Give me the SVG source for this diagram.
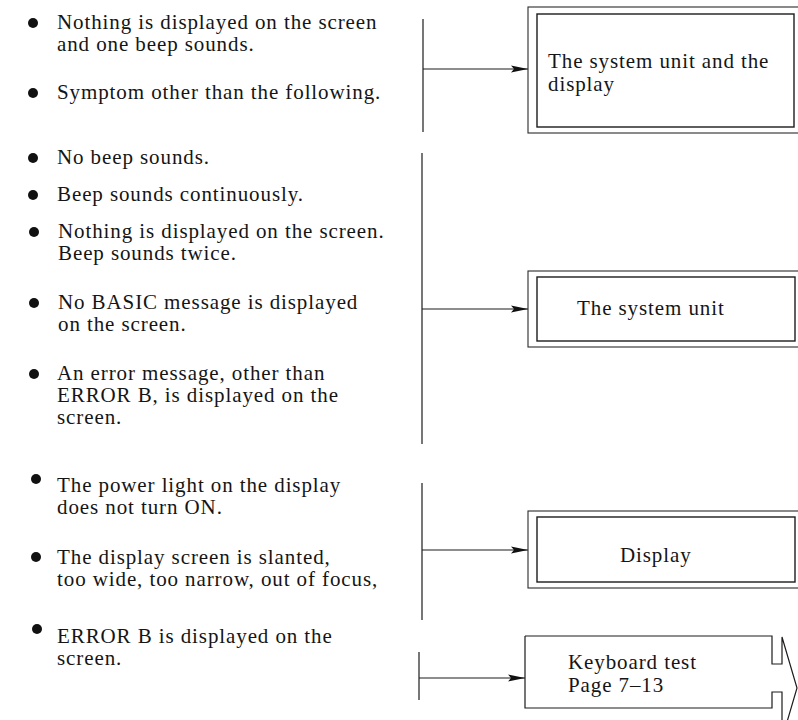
<svg xmlns="http://www.w3.org/2000/svg" width="798" height="720" viewBox="0 0 798 720">
<style>
  text { font-family: "Liberation Serif", "Times New Roman", serif; font-size: 21px; letter-spacing: 0.9px; fill: #151515; }
  .ln { stroke: #1c1c1c; stroke-width: 1.2; fill: none; }
  .outer { stroke: #2a2a2a; stroke-width: 1.1; fill: none; }
  .inner { stroke: #1c1c1c; stroke-width: 1.4; fill: none; }
  .bul { fill: #111; }
</style>
<defs>
  <marker id="ah" markerUnits="userSpaceOnUse" markerWidth="18" markerHeight="10" refX="17" refY="5" orient="auto">
    <path d="M0,1.6 L17,5 L0,8.4 L3,5 Z" fill="#111"/>
  </marker>
</defs>
<rect width="798" height="720" fill="#ffffff"/>

<g id="symptoms">
  <g id="s1">
    <circle class="bul" cx="33" cy="23" r="5"/>
    <text x="57" y="29">Nothing is displayed on the screen</text>
    <text x="57" y="51">and one beep sounds.</text>
  </g>
  <g id="s2">
    <circle class="bul" cx="33" cy="93" r="5"/>
    <text x="57" y="99">Symptom other than the following.</text>
  </g>
  <g id="s3">
    <circle class="bul" cx="33" cy="158" r="5"/>
    <text x="57" y="164">No beep sounds.</text>
  </g>
  <g id="s4">
    <circle class="bul" cx="33" cy="195" r="5"/>
    <text x="57" y="201">Beep sounds continuously.</text>
  </g>
  <g id="s5">
    <circle class="bul" cx="34" cy="232" r="5"/>
    <text x="58" y="238">Nothing is displayed on the screen.</text>
    <text x="58" y="260">Beep sounds twice.</text>
  </g>
  <g id="s6">
    <circle class="bul" cx="34" cy="303" r="5"/>
    <text x="58" y="309">No BASIC message is displayed</text>
    <text x="58" y="331">on the screen.</text>
  </g>
  <g id="s7">
    <circle class="bul" cx="34" cy="374" r="5"/>
    <text x="57" y="380">An error message, other than</text>
    <text x="57" y="402">ERROR B, is displayed on the</text>
    <text x="57" y="424">screen.</text>
  </g>
  <g id="s8">
    <circle class="bul" cx="36" cy="479" r="5"/>
    <text x="57" y="492">The power light on the display</text>
    <text x="57" y="514">does not turn ON.</text>
  </g>
  <g id="s9">
    <circle class="bul" cx="36" cy="557" r="5"/>
    <text x="57" y="564">The display screen is slanted,</text>
    <text x="57" y="586">too wide, too narrow, out of focus,</text>
  </g>
  <g id="s10">
    <circle class="bul" cx="37" cy="629" r="5"/>
    <text x="57" y="643">ERROR B is displayed on the</text>
    <text x="57" y="665">screen.</text>
  </g>
</g>

<g id="connectors">
  <line class="ln" x1="423" y1="19" x2="423" y2="132"/>
  <line class="ln" x1="423" y1="69" x2="528" y2="69" marker-end="url(#ah)"/>
  <line class="ln" x1="422" y1="153" x2="422" y2="444"/>
  <line class="ln" x1="422" y1="309" x2="528" y2="309" marker-end="url(#ah)"/>
  <line class="ln" x1="422" y1="483" x2="422" y2="620"/>
  <line class="ln" x1="422" y1="550" x2="528" y2="550" marker-end="url(#ah)"/>
  <line class="ln" x1="419" y1="652" x2="419" y2="700"/>
  <line class="ln" x1="419" y1="678" x2="525" y2="678" marker-end="url(#ah)"/>
</g>

<g id="box1">
  <rect class="outer" x="528" y="7" width="275" height="126"/>
  <rect class="inner" x="537" y="14" width="257" height="113"/>
  <text x="548" y="68">The system unit and the</text>
  <text x="548" y="91">display</text>
</g>

<g id="box2">
  <rect class="outer" x="528" y="271" width="275" height="76"/>
  <rect class="inner" x="537" y="277" width="258" height="64"/>
  <text x="577" y="315">The system unit</text>
</g>

<g id="box3">
  <rect class="outer" x="528" y="511" width="275" height="77"/>
  <rect class="inner" x="537" y="517" width="258" height="65"/>
  <text x="620" y="562">Display</text>
</g>

<g id="box4">
  <path class="ln" d="M525,636 L772,636 L772,664 L782,664 L782,637 L797,688 L782,739"/>
  <path class="ln" d="M525,636 L525,708 L772,708 L772,692 L782,692 L782,722"/>
  <text x="568" y="669">Keyboard test</text>
  <text x="568" y="692">Page 7–13</text>
</g>
</svg>
